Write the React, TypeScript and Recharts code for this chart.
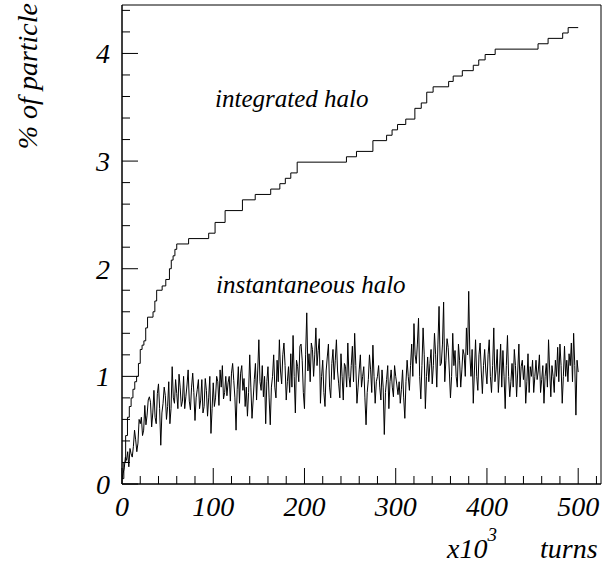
import { LineChart, Line, XAxis, YAxis, ReferenceArea } from "recharts";

// x values in 10^3 turns, y values in % of particles
const integratedTurns = [
  0, 2, 4, 6, 8, 10, 12, 14, 16, 18, 20, 22, 24, 26, 28, 34, 36, 38, 44, 48, 52, 54, 56, 58, 60, 73, 95,
  102, 113, 132, 146, 163, 173, 179, 185, 192, 246, 257, 275, 290, 296, 302, 311, 321, 328, 334, 341,
  358, 363, 373, 385, 391, 398, 409, 456, 467, 483, 489, 500,
];
const integratedPct = [
  0.05, 0.2, 0.45, 0.62, 0.72, 0.8, 0.88, 0.95, 1.0, 1.12, 1.25, 1.29, 1.33, 1.45, 1.55, 1.6, 1.7, 1.8,
  1.84, 1.9, 2.0, 2.08, 2.12, 2.18, 2.23, 2.28, 2.33, 2.43, 2.54, 2.64, 2.69, 2.74, 2.79, 2.84, 2.89,
  2.99, 3.04, 3.09, 3.19, 3.24, 3.29, 3.34, 3.39, 3.49, 3.54, 3.64, 3.69, 3.74, 3.79, 3.84, 3.89, 3.94,
  3.99, 4.04, 4.09, 4.14, 4.19, 4.24, 4.24,
];

// instantaneous halo, evenly spaced readings from 0 to 500 x10^3 turns
const instantEnd = 500;
const instantPct = [
  0.05, 0.1, 0.15, 0.25, 0.22, 0.3, 0.16, 0.33, 0.28, 0.25, 0.35, 0.5, 0.41, 0.3, 0.38, 0.6, 0.56, 0.62,
  0.45, 0.5, 0.73, 0.55, 0.64, 0.78, 0.81, 0.76, 0.53, 0.66, 0.87, 0.62, 0.56, 0.84, 0.93, 0.7, 0.36,
  0.66, 0.75, 0.9, 0.82, 0.6, 0.72, 0.95, 0.56, 0.7, 1.09, 0.8, 0.75, 0.97, 0.84, 0.7, 1.02, 0.9, 0.72,
  0.77, 1.0, 0.7, 0.81, 0.92, 1.06, 0.77, 0.69, 0.9, 1.03, 0.85, 0.59, 0.8, 0.88, 0.97, 0.7, 0.78, 0.97,
  0.66, 0.72, 0.98, 0.87, 0.63, 0.8, 1.0, 0.47, 0.7, 0.94, 0.72, 0.8, 1.0, 0.95, 0.73, 1.06, 0.9, 1.1,
  0.79, 0.85, 1.0, 0.82, 0.94, 1.0, 0.77, 1.03, 1.12, 0.96, 0.8, 0.5, 0.88, 1.09, 0.75,
  1.03, 1.1, 0.87, 0.98, 0.72, 0.9, 0.63, 0.85, 1.2, 0.9, 0.61, 0.78, 0.97, 1.12, 0.78, 1.05, 1.34, 0.95,
  0.87, 1.1, 0.81, 1.0, 0.56, 0.95, 1.09, 0.8, 0.55, 0.9, 1.0, 1.2, 0.9, 0.8, 1.15, 0.95, 1.34, 1.05,
  0.93, 1.2, 1.31, 1.1, 0.78, 0.95, 1.09, 0.85, 1.21, 0.9, 1.38, 1.0, 0.66, 1.15, 1.09, 0.95, 1.28, 1.3,
  1.15, 0.85, 0.7, 1.2, 1.59, 1.05, 1.21, 0.95, 1.31, 1.25, 1.0, 1.2, 1.45, 1.1, 1.24, 1.35, 0.75, 1.0,
  1.15, 0.85, 0.72, 1.05, 1.18, 1.3, 0.9, 0.8, 1.12, 1.25, 0.97, 1.15, 1.34, 1.05, 0.93, 0.8, 1.21, 1.0,
  0.78, 1.12, 1.09, 0.9, 1.31, 1.0, 0.9, 1.1, 1.28, 0.95, 1.4, 1.1,
  0.75, 0.9, 1.06, 1.2, 0.9, 1.0, 1.09, 0.8, 0.55, 0.85, 0.97, 1.2, 1.06, 0.85, 1.29, 1.0, 0.75, 0.95,
  1.0, 1.1, 0.9, 0.78, 1.06, 0.9, 0.46, 0.85, 0.97, 1.1, 0.7, 0.95, 1.06, 0.9, 0.81, 1.1, 1.0, 0.92,
  0.83, 0.95, 0.75, 0.88, 1.06, 0.8, 0.61, 0.95, 1.15, 1.0, 0.87, 1.1, 1.3, 1.0, 1.49, 1.2, 1.12, 1.3,
  1.54, 1.0, 0.79, 1.1, 1.45, 1.2, 0.7, 1.0, 1.18, 0.95, 1.12, 1.25, 0.93, 1.1, 1.4, 1.2, 0.9, 1.3, 1.65,
  1.1, 1.12, 1.3, 1.69, 0.95, 1.15, 1.35, 1.27, 1.05, 0.8, 1.0, 1.4, 1.1, 1.24, 1.0, 0.9, 1.3, 1.15, 0.9,
  1.06, 1.25, 1.2, 1.0, 1.45, 1.2, 1.79,
  1.2, 1.0, 1.25, 0.75, 1.05, 1.34, 1.0, 0.87, 1.2, 1.31, 1.05, 0.84, 1.1, 1.25, 1.05, 0.93, 1.2, 1.34,
  1.0, 0.85, 1.1, 1.45, 0.95, 1.06, 1.25, 0.85, 1.05, 1.3, 0.9, 1.24, 1.0, 0.7, 1.1, 1.38, 1.0, 0.81,
  0.95, 1.12, 0.9, 1.25, 1.1, 0.81, 1.05, 1.3, 0.9, 1.09, 1.15, 0.97, 1.1, 0.75, 0.95, 1.21, 0.85, 1.09,
  1.0, 1.15, 0.85, 1.0, 1.15, 0.97, 1.05, 1.2, 0.85, 0.97, 1.1, 0.75, 1.0, 1.12, 0.9, 1.34, 1.05, 0.81,
  1.1, 1.0, 0.85, 1.15, 1.0, 1.27, 0.95, 1.3, 1.1, 0.75, 1.0, 1.28, 1.0, 1.15, 0.95, 1.21, 1.1, 1.31,
  0.95, 1.4, 1.1, 0.64, 1.15, 1.04,
];

const xTicks = [
  0, 20, 40, 60, 80, 100, 120, 140, 160, 180, 200, 220, 240, 260, 280, 300, 320, 340, 360, 380, 400,
  420, 440, 460, 480, 500, 520,
];
const xLabels = [0, 100, 200, 300, 400, 500];
const yTicks = [
  0, 0.2, 0.4, 0.6, 0.8, 1, 1.2, 1.4, 1.6, 1.8, 2, 2.2, 2.4, 2.6, 2.8, 3, 3.2, 3.4, 3.6, 3.8, 4, 4.2,
  4.4,
];
const yLabels = [0, 1, 2, 3, 4];

const integrated = integratedTurns.map((x, i) => ({ x, y: integratedPct[i] }));
const instantaneous = instantPct.map((y, i) => ({
  x: (i * instantEnd) / (instantPct.length - 1),
  y,
}));

const font = "'Liberation Serif', 'Times New Roman', serif";

function XTick(props: any) {
  const { x, y, payload } = props;
  const major = xLabels.includes(payload.value);
  return (
    <g>
      <line x1={x} x2={x} y1={y} y2={y - (major ? 16 : 8)} stroke="#000" />
      {major && (
        <text x={x} y={y + 32} textAnchor="middle" fontSize={28} fontStyle="italic" fontFamily={font} fill="#000">
          {payload.value}
        </text>
      )}
    </g>
  );
}

function YTick(props: any) {
  const { x, y, payload } = props;
  const major = yLabels.some((v) => Math.abs(v - payload.value) < 1e-6);
  return (
    <g>
      <line x1={x} x2={x + (major ? 16 : 8)} y1={y} y2={y} stroke="#000" />
      {major && (
        <text x={x - 12} y={y + 10} textAnchor="end" fontSize={28} fontStyle="italic" fontFamily={font} fill="#000">
          {Math.round(payload.value)}
        </text>
      )}
    </g>
  );
}

export default function App() {
  return (
    <div style={{ position: "absolute", left: 0, top: 0, width: 603, height: 566, background: "#fff" }}>
      <LineChart width={603} height={566} margin={{ top: 5, right: 2, left: 82, bottom: 52 }}>
        <XAxis
          type="number"
          dataKey="x"
          domain={[0, 525]}
          ticks={xTicks}
          interval={0}
          height={30}
          tickSize={0}
          tickMargin={0}
          tickLine={false}
          axisLine={{ stroke: "#000" }}
          tick={<XTick />}
          allowDataOverflow
        />
        <YAxis
          type="number"
          dataKey="y"
          domain={[0, 4.45]}
          ticks={yTicks}
          interval={0}
          width={40}
          tickSize={0}
          tickMargin={0}
          tickLine={false}
          axisLine={{ stroke: "#000" }}
          tick={<YTick />}
          allowDataOverflow
        />
        <ReferenceArea x1={0} x2={525} y1={0} y2={4.45} fill="none" stroke="#000" strokeWidth={1} />
        <Line
          data={integrated}
          dataKey="y"
          type="stepAfter"
          stroke="#000"
          strokeWidth={1}
          dot={false}
          isAnimationActive={false}
        />
        <Line
          data={instantaneous}
          dataKey="y"
          type="linear"
          stroke="#000"
          strokeWidth={1}
          dot={false}
          isAnimationActive={false}
        />
      </LineChart>
      <svg width={603} height={566} style={{ position: "absolute", left: 0, top: 0, pointerEvents: "none" }}>
        <text
          x={37}
          y={3}
          transform="rotate(-90 37 3)"
          textAnchor="end"
          fontSize={28}
          fontStyle="italic"
          fontFamily={font}
          fill="#000"
        >
          % of particle
        </text>
        <text x={447} y={558} fontSize={28} fontStyle="italic" fontFamily={font} fill="#000">
          x10
          <tspan fontSize={19} dy={-17}>
            3
          </tspan>
        </text>
        <text x={540} y={558} fontSize={28} fontStyle="italic" fontFamily={font} fill="#000">
          turns
        </text>
        <text x={215} y={107} fontSize={25} fontStyle="italic" fontFamily={font} fill="#000">
          integrated halo
        </text>
        <text x={216} y={293} fontSize={25} fontStyle="italic" fontFamily={font} fill="#000">
          instantaneous halo
        </text>
      </svg>
    </div>
  );
}
